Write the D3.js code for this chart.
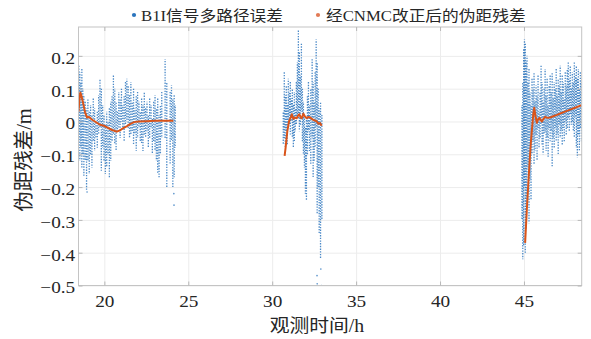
<!DOCTYPE html>
<html>
<head>
<meta charset="utf-8">
<script src="https://cdn.jsdelivr.net/npm/d3@7"></script>
<style>
  body { margin: 0; background: #fff; }
  svg { display: block; }
</style>
</head>
<body>
<svg id="chart" width="591" height="339"></svg>
<script>
// Axis ticks and labels
const xTicks = [20, 25, 30, 35, 40, 45];
const yTicks = [0.2, 0.1, 0, -0.1, -0.2, -0.3, -0.4, -0.5];
const yTickLabels = ["0.2", "0.1", "0", "\u22120.1", "\u22120.2", "\u22120.3", "\u22120.4", "\u22120.5"];
const seriesNames = ["B1I信号多路径误差", "经CNMC改正后的伪距残差"];
const xTitle = "观测时间/h";
const yTitle = "伪距残差/m";

// B1I multipath error: each entry is [time h, upper value m, lower value m] of one sample streak
const multipathPass1 = [
  [18.48,0.17,-0.05],[18.54,0.15,-0.12],[18.60,0.12,-0.08],[18.66,0.16,-0.14],[18.72,0.10,-0.10],
  [18.78,0.08,-0.17],[18.86,0.06,-0.12],[18.94,0.04,-0.21],[19.02,0.07,-0.12],[19.10,0.03,-0.16],
  [19.18,0.05,-0.10],[19.26,0.02,-0.14],[19.34,0.07,-0.06],[19.42,0.04,-0.09],[19.50,0.00,-0.05],
  [19.58,0.03,-0.08],[19.66,0.08,-0.04],[19.74,0.13,-0.02],[19.82,0.10,-0.15],[19.90,0.05,-0.08],
  [19.98,0.02,-0.12],[20.06,-0.01,-0.16],[20.14,0.03,-0.14],[20.22,0.00,-0.10],[20.30,0.04,-0.17],
  [20.38,0.06,-0.12],[20.46,0.08,-0.06],[20.54,0.14,-0.04],[20.62,0.10,-0.07],[20.70,0.06,-0.09],
  [20.78,0.03,-0.03],[20.86,0.09,-0.02],[20.94,0.07,-0.05],[21.02,0.10,0.00],[21.10,0.05,-0.03],
  [21.18,0.08,-0.06],[21.26,0.12,-0.01],[21.34,0.13,0.00],[21.42,0.11,-0.02],[21.50,0.08,-0.05],
  [21.58,0.12,-0.04],[21.66,0.06,-0.03],[21.74,0.10,-0.07],[21.82,0.04,-0.04],[21.90,0.08,-0.09],
  [21.98,0.09,-0.05],[22.06,0.06,-0.02],[22.14,0.03,-0.06],[22.22,0.07,-0.07],[22.30,0.05,-0.09],
  [22.38,0.09,-0.04],[22.46,0.04,-0.05],[22.54,0.06,-0.03],[22.62,0.02,-0.08],[22.70,0.07,-0.05],
  [22.78,0.05,-0.02],[22.86,0.01,-0.10],[22.94,0.06,-0.06],[23.02,0.08,-0.09],[23.10,0.04,-0.12],
  [23.18,0.07,-0.16],[23.26,0.02,-0.17],[23.34,0.05,-0.10],[23.42,0.09,-0.05],[23.62,0.19,-0.05],
  [23.72,0.12,-0.20],[23.92,0.09,-0.13],[24.00,0.11,-0.06],[24.08,0.07,-0.20],[24.16,0.08,-0.17],
  [24.22,0.05,-0.08]
];
const multipathPass2 = [
  [30.66,0.03,-0.07],[30.72,0.15,-0.05],[30.78,0.08,-0.08],[30.84,0.11,-0.03],[30.90,0.05,-0.07],
  [30.96,0.13,-0.02],[31.02,0.09,-0.01],[31.08,0.12,-0.04],[31.14,0.07,0.00],[31.20,0.10,-0.05],
  [31.26,0.05,-0.08],[31.32,0.09,-0.06],[31.38,0.04,-0.03],[31.44,0.12,-0.01],[31.50,0.18,0.02],
  [31.56,0.28,0.01],[31.62,0.21,-0.03],[31.68,0.14,-0.01],[31.74,0.24,0.03],[31.80,0.10,-0.06],
  [31.86,0.06,-0.10],[31.92,0.02,-0.14],[31.98,-0.02,-0.22],[32.04,0.01,-0.24],[32.10,0.08,-0.10],
  [32.16,0.12,-0.03],[32.22,0.05,-0.09],[32.30,0.10,-0.13],[32.38,0.19,-0.05],[32.44,0.12,-0.17],
  [32.50,0.06,-0.12],[32.56,0.15,-0.08],[32.62,0.25,-0.02],[32.68,0.18,-0.28],[32.74,0.10,-0.20],
  [32.80,0.04,-0.34],[32.88,0.06,-0.42],[32.96,0.02,-0.30]
];
const multipathPass3 = [
  [44.88,0.05,-0.30],[44.93,0.12,-0.42],[44.98,0.22,-0.38],[45.03,0.25,-0.20],[45.08,0.24,-0.40],
  [45.13,0.18,-0.33],[45.18,0.20,-0.25],[45.24,0.12,-0.14],[45.30,0.16,-0.31],[45.36,0.09,-0.18],
  [45.42,0.05,-0.24],[45.48,0.13,-0.10],[45.54,0.10,-0.06],[45.60,0.15,-0.13],[45.66,0.06,-0.09],
  [45.72,0.11,-0.04],[45.78,0.08,-0.12],[45.84,0.14,-0.02],[45.90,0.03,-0.08],[45.96,0.09,-0.05],
  [46.02,0.17,-0.01],[46.08,0.12,-0.07],[46.14,0.06,-0.10],[46.20,0.10,-0.04],[46.26,0.16,-0.03],
  [46.32,0.08,-0.09],[46.38,0.13,-0.05],[46.44,0.05,-0.11],[46.50,0.11,-0.02],[46.56,0.14,-0.06],
  [46.62,0.09,-0.03],[46.68,0.15,-0.14],[46.74,0.07,-0.05],[46.80,0.12,-0.08],[46.86,0.10,-0.02],
  [46.92,0.16,-0.06],[46.98,0.08,-0.04],[47.04,0.13,-0.10],[47.10,0.11,-0.01],[47.16,0.17,-0.05],
  [47.22,0.09,-0.03],[47.28,0.14,-0.07],[47.34,0.12,-0.02],[47.40,0.07,-0.06],[47.46,0.15,0.00],
  [47.52,0.11,-0.04],[47.58,0.16,-0.02],[47.64,0.18,0.01],[47.70,0.13,-0.03],[47.76,0.17,0.02],
  [47.82,0.10,-0.01],[47.88,0.15,0.00],[47.94,0.12,-0.03],[48.00,0.18,-0.05],[48.06,0.14,0.01],
  [48.12,0.17,-0.08],[48.18,0.13,-0.11],[48.24,0.16,-0.04],[48.30,0.10,-0.09],[48.36,0.15,-0.02],
  [48.42,0.12,-0.06]
];
// isolated multipath samples [time h, value m]
const multipathIsolated = [
  [18.97,-0.215],[24.14,-0.22],[24.15,-0.255],
  [32.67,-0.47],[32.68,-0.495],[32.90,-0.45],[32.93,-0.50]
];

// Pseudorange residual after CNMC correction [time h, value m]
const residualPass1 = [
  [18.46,0.030],[18.52,0.070],[18.57,0.088],[18.65,0.075],[18.76,0.050],[18.85,0.028],
  [18.97,0.012],[19.09,0.014],[19.25,0.006],[19.44,0.000],[19.74,-0.010],[19.98,-0.013],
  [20.24,-0.020],[20.46,-0.026],[20.74,-0.031],[20.93,-0.027],[21.13,-0.020],[21.35,-0.014],
  [21.53,-0.008],[21.77,-0.002],[22.02,0.000],[22.52,0.001],[23.02,0.002],[23.51,0.002],[24.11,0.002]
];
const residualPass2 = [
  [30.74,-0.105],[30.80,-0.080],[30.90,-0.030],[31.00,0.000],[31.10,0.012],[31.17,0.022],
  [31.26,0.008],[31.36,0.012],[31.46,0.010],[31.54,0.018],[31.62,0.022],[31.70,0.012],
  [31.76,0.010],[31.86,0.024],[31.94,0.016],[32.06,0.010],[32.16,0.014],[32.26,0.012],
  [32.36,0.008],[32.45,0.005],[32.55,0.003],[32.66,0.000],[32.75,-0.007],[32.85,-0.005],[32.95,-0.013]
];
const residualPass3 = [
  [45.07,-0.370],[45.17,-0.270],[45.27,-0.180],[45.34,-0.120],[45.41,-0.065],[45.50,-0.010],
  [45.56,0.025],[45.61,0.042],[45.69,0.015],[45.77,-0.004],[45.84,0.006],[45.92,0.011],
  [46.00,0.004],[46.07,0.000],[46.16,0.008],[46.26,0.014],[46.40,0.011],[46.56,0.012],
  [46.75,0.016],[46.96,0.020],[47.20,0.025],[47.45,0.030],[47.75,0.036],[48.05,0.042],
  [48.25,0.046],[48.44,0.050]
];

const plot = { left: 78.5, right: 581.7, top: 27, bottom: 285.5 };
const blue = "#2a74bd", orange = "#d9541a";
const latin = "'Liberation Serif','Times New Roman','Noto Sans CJK SC',serif";
const textColor = "#262626";

const svg = d3.select("#chart");
const x = d3.scaleLinear().domain([18.46, 48.44]).range([plot.left, plot.right]);
const y = d3.scaleLinear().domain([-0.5, 0.288]).range([plot.bottom, plot.top]);
const pw = plot.right - plot.left, ph = plot.bottom - plot.top;

// grid
svg.append("g").attr("transform", `translate(0,${plot.bottom})`)
  .call(d3.axisBottom(x).tickValues(xTicks).tickSize(-ph).tickFormat(""))
  .call(g => g.select(".domain").remove())
  .call(g => g.selectAll("line").attr("stroke", "#ececec").attr("stroke-width", 1));
svg.append("g").attr("transform", `translate(${plot.left},0)`)
  .call(d3.axisLeft(y).tickValues(yTicks).tickSize(-pw).tickFormat(""))
  .call(g => g.select(".domain").remove())
  .call(g => g.selectAll("line").attr("stroke", "#ececec").attr("stroke-width", 1));

// multipath samples drawn as dotted streaks
svg.append("clipPath").attr("id", "plotclip").append("rect")
  .attr("x", plot.left).attr("y", plot.top).attr("width", pw).attr("height", ph);
const dataG = svg.append("g").attr("clip-path", "url(#plotclip)");
const streaks = multipathPass1.concat(multipathPass2, multipathPass3);
dataG.append("g").selectAll("line").data(streaks).join("line")
  .attr("x1", d => x(d[0])).attr("x2", d => x(d[0]))
  .attr("y1", d => y(d[1])).attr("y2", d => y(d[2]))
  .attr("stroke", blue).attr("stroke-width", 1.3).attr("stroke-opacity", 0.85)
  .attr("stroke-dasharray", "1.4,1.3")
  .attr("stroke-dashoffset", (d, i) => (i % 3) * 0.9);
dataG.append("g").selectAll("circle").data(multipathIsolated).join("circle")
  .attr("cx", d => x(d[0])).attr("cy", d => y(d[1])).attr("r", 0.8)
  .attr("fill", blue).attr("fill-opacity", 0.8);

// corrected residual lines
const line = d3.line().x(d => x(d[0])).y(d => y(d[1]));
dataG.append("g").selectAll("path").data([residualPass1, residualPass2, residualPass3]).join("path")
  .attr("d", line).attr("fill", "none").attr("stroke", orange)
  .attr("stroke-width", 2).attr("stroke-linejoin", "round");

// frame
svg.append("rect").attr("x", plot.left).attr("y", plot.top).attr("width", pw).attr("height", ph)
  .attr("fill", "none").attr("stroke", "#c4c4c4").attr("stroke-width", 1);

// axes with inward ticks
const tickCol = "#b8b8b8";
const bottomAxis = svg.append("g").attr("transform", `translate(0,${plot.bottom})`)
  .call(d3.axisBottom(x).tickValues(xTicks).tickSizeInner(-4).tickSizeOuter(0).tickPadding(9));
bottomAxis.select(".domain").remove();
bottomAxis.selectAll("line").attr("stroke", tickCol);
bottomAxis.selectAll("text").attr("font-family", latin).attr("font-size", 17.5)
  .attr("fill", textColor).attr("transform", "scale(1.1,1)");

const leftAxis = svg.append("g").attr("transform", `translate(${plot.left},0)`)
  .call(d3.axisLeft(y).tickValues(yTicks).tickSizeInner(-4).tickSizeOuter(0).tickPadding(3)
    .tickFormat((d, i) => yTickLabels[i]));
leftAxis.select(".domain").remove();
leftAxis.selectAll("line").attr("stroke", tickCol);
leftAxis.selectAll("text").attr("font-family", latin).attr("font-size", 17.5)
  .attr("fill", textColor).attr("dy", "0.42em").attr("transform", "scale(1.1,1)");

const topAxis = svg.append("g").attr("transform", `translate(0,${plot.top})`)
  .call(d3.axisTop(x).tickValues(xTicks).tickSizeInner(-4).tickSizeOuter(0).tickFormat(""));
topAxis.select(".domain").remove();
topAxis.selectAll("line").attr("stroke", tickCol);
const rightAxis = svg.append("g").attr("transform", `translate(${plot.right},0)`)
  .call(d3.axisRight(y).tickValues(yTicks).tickSizeInner(-4).tickSizeOuter(0).tickFormat(""));
rightAxis.select(".domain").remove();
rightAxis.selectAll("line").attr("stroke", tickCol);

// axis titles
svg.append("text").attr("transform", "translate(317,332) scale(1.1,1)")
  .attr("text-anchor", "middle").attr("font-family", latin).attr("font-size", 18)
  .attr("fill", textColor).text(xTitle);
svg.append("text").attr("transform", "translate(31,160) rotate(-90)")
  .attr("text-anchor", "middle").attr("font-family", latin).attr("font-size", 20.5)
  .attr("fill", textColor).text(yTitle);

// legend
const legend = svg.append("g");
const legendItems = [
  { name: seriesNames[0], color: blue, dotX: 134, textX: 141 },
  { name: seriesNames[1], color: "#e27a55", dotX: 318, textX: 326 }
];
legendItems.forEach(it => {
  legend.append("circle").attr("cx", it.dotX).attr("cy", 15).attr("r", 2.1).attr("fill", it.color);
  legend.append("text").attr("transform", `translate(${it.textX},20.5) scale(1.1,1)`)
    .attr("font-family", latin).attr("font-size", 15.2).attr("fill", textColor).text(it.name);
});
</script>
</body>
</html>
